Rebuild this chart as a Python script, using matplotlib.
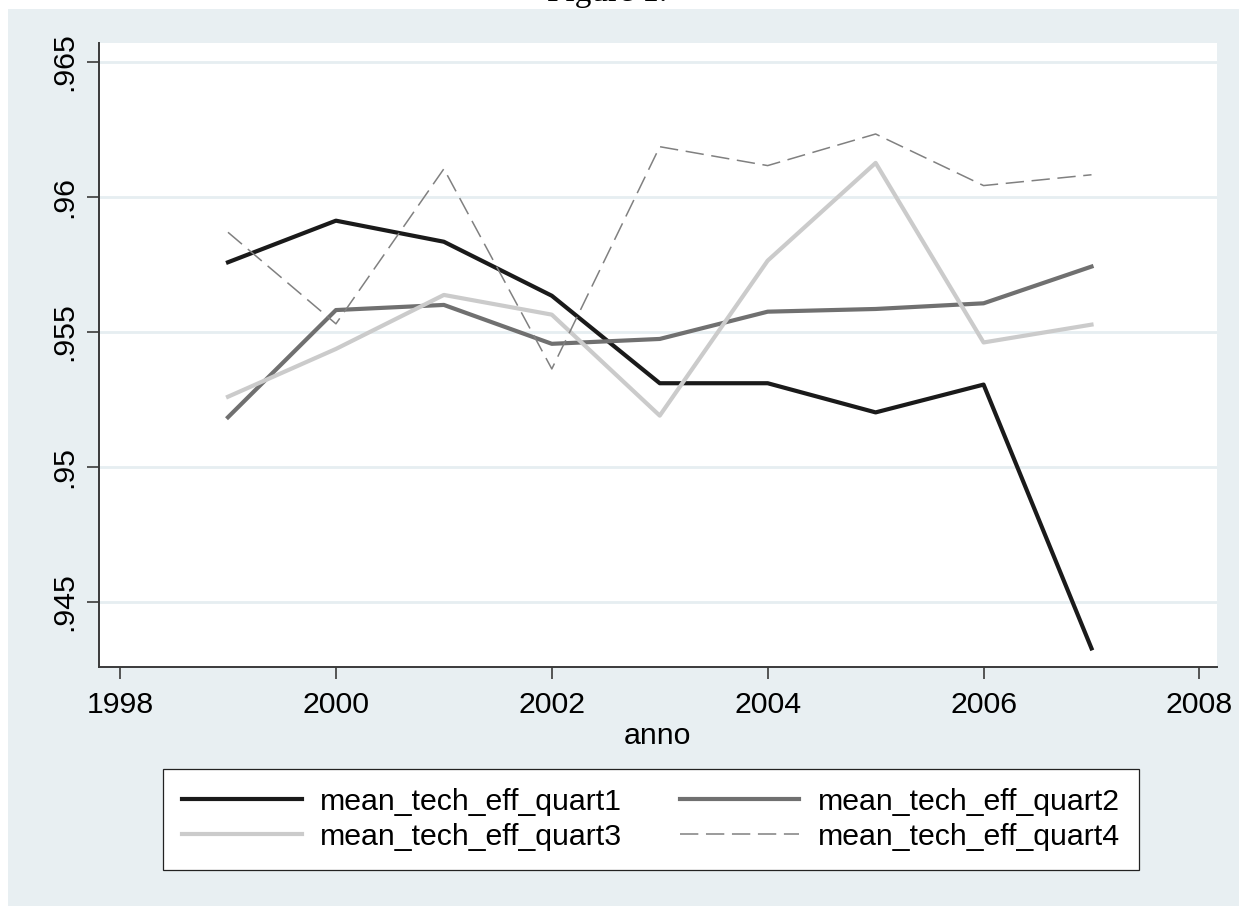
import matplotlib
matplotlib.use("Agg")
import matplotlib.pyplot as plt
from matplotlib.patches import Rectangle

plt.rcParams['font.family'] = ['Liberation Sans', 'DejaVu Sans']

years = [1999, 2000, 2001, 2002, 2003, 2004, 2005, 2006, 2007]
quart1 = [0.95757, 0.95911, 0.95833, 0.95633, 0.95309, 0.95309, 0.95201, 0.95304, 0.94327]
quart2 = [0.95183, 0.95580, 0.95599, 0.95455, 0.95473, 0.95574, 0.95584, 0.95605, 0.95741]
quart3 = [0.95259, 0.95436, 0.95636, 0.95563, 0.95189, 0.95763, 0.96125, 0.95460, 0.95526]
quart4 = [0.95868, 0.95529, 0.96103, 0.95362, 0.96185, 0.96115, 0.96232, 0.96041, 0.96081]
labels = ["mean_tech_eff_quart1", "mean_tech_eff_quart2",
          "mean_tech_eff_quart3", "mean_tech_eff_quart4"]
xticks = [1998, 2000, 2002, 2004, 2006, 2008]
yticks = [0.945, 0.95, 0.955, 0.96, 0.965]
ytick_labels = [".945", ".95", ".955", ".96", ".965"]

W, H = 1239, 906
fig = plt.figure(figsize=(W / 100, H / 100), dpi=100, facecolor='white')
bg = '#e8eff2'
fig.patches.append(Rectangle((8 / W, 0), 1 - 8 / W, 1 - 9 / H, transform=fig.transFigure,
                             facecolor=bg, edgecolor='none', zorder=-10))

left, right, top, bottom = 99, 1216.5, 43, 667.3
ax = fig.add_axes([left / W, 1 - bottom / H, (right - left) / W, (bottom - top) / H])
ax.set_zorder(1)
ax.set_facecolor('white')

l1, = ax.plot(years, quart1, color='#1a1a1a', lw=3.0)
l2, = ax.plot(years, quart2, color='#707070', lw=3.0)
l3, = ax.plot(years, quart3, color='#cbcbcb', lw=3.0)
l4, = ax.plot(years, quart4, color='#808080', lw=1.1, linestyle=(0, (12, 5)))

ax.set_xlim(1997.805, 2008.158)
ax.set_ylim(0.94257, 0.96569)
ax.set_xticks(xticks)
ax.set_xticklabels([str(x) for x in xticks])
ax.set_yticks(yticks)
ax.set_yticklabels(ytick_labels, rotation=90, va='center')

ax.grid(axis='y', color='#e6eef1', lw=2.0)
ax.set_axisbelow(True)
for s in ['top', 'right']:
    ax.spines[s].set_visible(False)
for s in ['left', 'bottom']:
    ax.spines[s].set_color('#3a3a3a')
    ax.spines[s].set_linewidth(1.4)
ax.tick_params(axis='both', direction='out', length=8.6, width=1.2, color='#3a3a3a',
               labelsize=21.8, labelcolor='black')
ax.tick_params(axis='x', pad=8.5)
ax.tick_params(axis='y', pad=6.2)

ax.set_xlabel('anno', fontsize=21.8)
ax.xaxis.set_label_coords(0.5, -(721.5 - bottom) / (bottom - top))

# row-wise order like the reference (matplotlib fills columns first)
leg = fig.legend([l1, l3, l2, l4], [labels[0], labels[2], labels[1], labels[3]],
                 ncol=2, loc='upper center',
                 bbox_to_anchor=(651 / W, 1 - 769 / H), fontsize=21.8,
                 frameon=True, fancybox=False, shadow=False, framealpha=1,
                 handlelength=3.95, handletextpad=0.6, columnspacing=1.9,
                 labelspacing=0.22, borderpad=0.63, borderaxespad=0)
leg.set_zorder(2)
leg.get_frame().set_edgecolor('#222222')
leg.get_frame().set_linewidth(0.9)
leg.get_frame().set_facecolor('white')

fig.text(607 / W, 1 - 1 / H, 'Figure 1.', family=['Liberation Serif', 'DejaVu Serif'],
         fontsize=24, ha='center', va='baseline', color='black')

fig.savefig('out.png', dpi=100, facecolor='white')
